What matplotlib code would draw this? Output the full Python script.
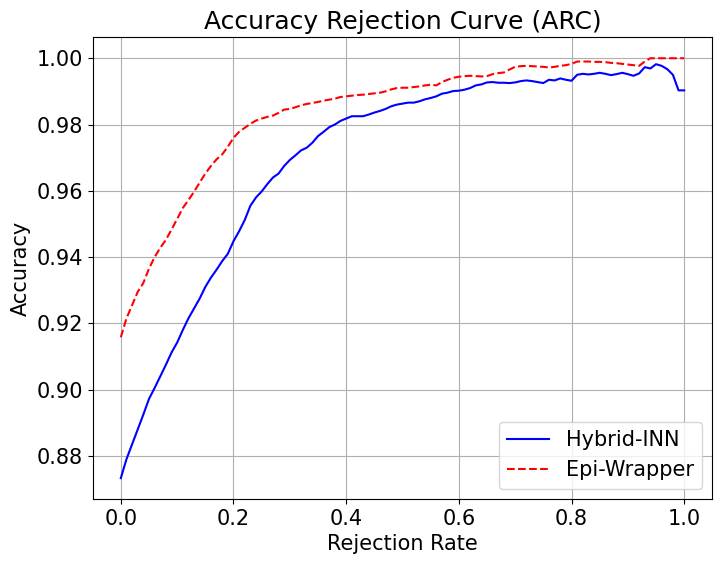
import matplotlib
matplotlib.use("Agg")
import matplotlib.pyplot as plt
import numpy as np

rejection_rate = np.round(np.arange(0, 101) / 100, 2)

hybrid_inn = [
    0.8733, 0.8790, 0.8835, 0.8880, 0.8925, 0.8972, 0.9005, 0.9040, 0.9075, 0.9112,
    0.9142, 0.9180, 0.9215, 0.9245, 0.9275, 0.9310, 0.9338, 0.9362, 0.9388, 0.9410,
    0.9448, 0.9478, 0.9512, 0.9555, 0.9580, 0.9598, 0.9620, 0.9640, 0.9652, 0.9675,
    0.9693, 0.9707, 0.9722, 0.9730, 0.9745, 0.9765, 0.9778, 0.9792, 0.9800, 0.9811,
    0.9818, 0.9825, 0.9825, 0.9825, 0.9830, 0.9836, 0.9841, 0.9847, 0.9855, 0.9860,
    0.9863, 0.9866, 0.9866, 0.9870, 0.9876, 0.9880, 0.9885, 0.9893, 0.9896, 0.9901,
    0.9902, 0.9905, 0.9910, 0.9918, 0.9921, 0.9927, 0.9928, 0.9926, 0.9926, 0.9925,
    0.9927, 0.9931, 0.9933, 0.9931, 0.9928, 0.9925, 0.9935, 0.9933, 0.9939, 0.9935,
    0.9932, 0.9950, 0.9953, 0.9951, 0.9953, 0.9956, 0.9953, 0.9949, 0.9952, 0.9956,
    0.9952, 0.9947, 0.9954, 0.9973, 0.9969, 0.9982, 0.9977, 0.9967, 0.9950, 0.9903,
    0.9903,
]

epi_wrapper = [
    0.9158, 0.9215, 0.9255, 0.9295, 0.9322, 0.9365, 0.9400, 0.9428, 0.9452, 0.9483,
    0.9515, 0.9548, 0.9572, 0.9597, 0.9625, 0.9652, 0.9675, 0.9695, 0.9710, 0.9733,
    0.9760, 0.9778, 0.9790, 0.9802, 0.9812, 0.9818, 0.9823, 0.9827, 0.9835, 0.9845,
    0.9847, 0.9852, 0.9858, 0.9862, 0.9865, 0.9868, 0.9872, 0.9875, 0.9878, 0.9883,
    0.9885, 0.9887, 0.9889, 0.9890, 0.9892, 0.9894, 0.9896, 0.9900, 0.9906, 0.9910,
    0.9911, 0.9911, 0.9913, 0.9915, 0.9918, 0.9920, 0.9918, 0.9928, 0.9935, 0.9941,
    0.9944, 0.9946, 0.9947, 0.9946, 0.9945, 0.9946, 0.9952, 0.9955, 0.9957, 0.9966,
    0.9974, 0.9976, 0.9977, 0.9976, 0.9975, 0.9974, 0.9972, 0.9974, 0.9977, 0.9979,
    0.9983, 0.9990, 0.9990, 0.9990, 0.9989, 0.9989, 0.9988, 0.9986, 0.9985, 0.9983,
    0.9981, 0.9979, 0.9977, 0.9990, 1.0000, 1.0000, 1.0000, 1.0000, 1.0000, 1.0000,
    1.0000,
]

plt.rcParams["font.size"] = 15

fig, ax = plt.subplots(figsize=(7.21, 5.64), dpi=100)
fig.subplots_adjust(left=0.1285, right=0.988, top=0.934, bottom=0.115)
ax.plot(rejection_rate, hybrid_inn, color="blue", linestyle="-", label="Hybrid-INN")
ax.plot(rejection_rate, epi_wrapper, color="red", linestyle="--", label="Epi-Wrapper")
ax.set_title("Accuracy Rejection Curve (ARC)", fontsize=18)
ax.set_xlabel("Rejection Rate")
ax.set_ylabel("Accuracy")
ax.grid(True)
ax.legend(loc="lower right")
fig.savefig("out.png", dpi=100)
